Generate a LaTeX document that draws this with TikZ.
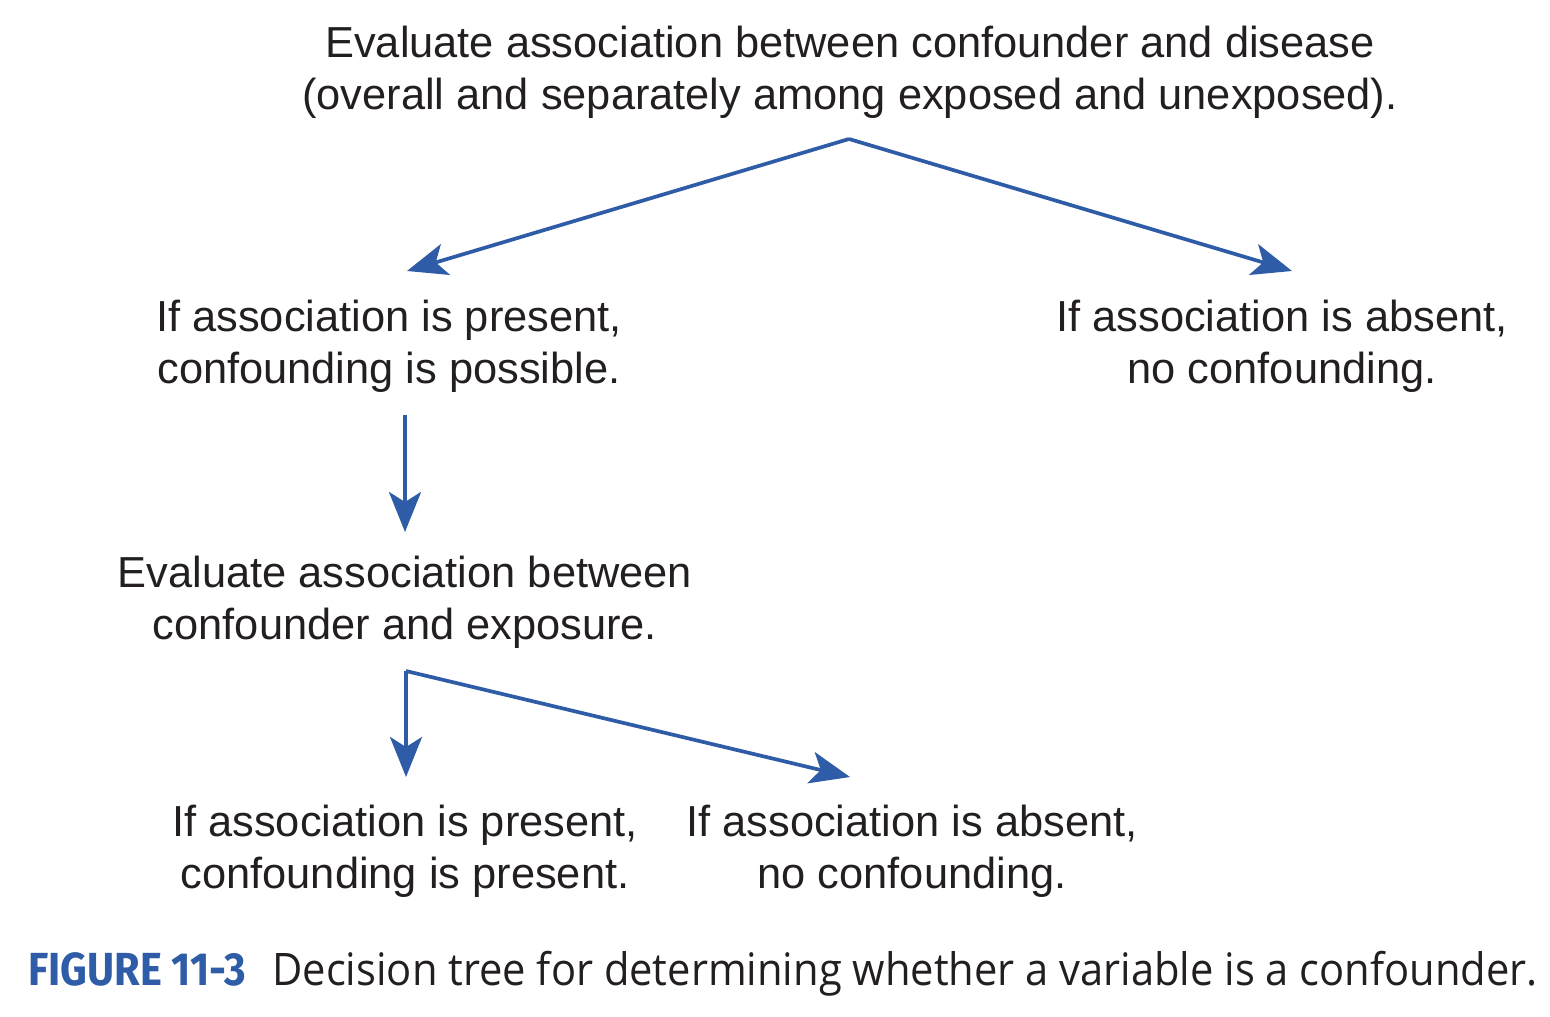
\documentclass[tikz,border=0pt]{standalone}
\usepackage{fontspec}
\setmainfont{Liberation Sans}
\newfontfamily\capfont{Fira Sans}
\newfontfamily\captext{Open Sans}
\usetikzlibrary{arrows.meta}
\definecolor{fblue}{HTML}{2E5CA6}
\definecolor{ftext}{HTML}{231F20}
\begin{document}
\begin{tikzpicture}[x=0.5pt,y=-0.5pt,
  lbl/.style={font=\fontsize{21.7}{26}\selectfont, text=ftext, align=center, inner sep=0pt, anchor=base},
  arr/.style={draw=fblue, line width=1.85pt, -{Stealth[length=20pt,width=16pt,inset=5pt]}}]
\useasboundingbox (0,0) rectangle (1550,1016);
% anchor=base is the baseline of the last line
\node[lbl] (top) at (850,110) {Evaluate association between confounder and disease\\(overall and separately among exposed and unexposed).};
\node[lbl] (pos1) at (389,383) {If association is present,\\confounding is possible.};
\node[lbl] (abs1) at (1282,383) {If association is absent,\\no confounding.};
\node[lbl] (eval2) at (405,639) {Evaluate association between\\confounder and exposure.};
\node[lbl] (pos2) at (405,888) {If association is present,\\confounding is present.};
\node[lbl] (abs2) at (912,888) {If association is absent,\\no confounding.};
\coordinate (apex) at (849,139);
\coordinate (tipL) at (407,271);
\coordinate (tipR) at (1292,271);
\coordinate (vtop) at (405,415);
\coordinate (vtip) at (405,532);
\coordinate (fork) at (406,671);
\coordinate (dtip) at (406,777);
\coordinate (rtip) at (850,777);
\draw[arr] (apex) -- (tipL);
\draw[arr] (apex) -- (tipR);
\draw[arr] (vtop) -- (vtip);
\draw[arr] (fork) -- (dtip);
\draw[arr] (fork) -- (rtip);
\node[anchor=base west, inner sep=0pt, text=fblue, font=\capfont\bfseries\fontsize{23.2}{26}\selectfont] (figlabel) at (28,985) {\scalebox{0.895}[1]{FIGURE 11-3}};
\node[anchor=base west, inner sep=0pt, text=ftext, font=\captext\fontsize{22.4}{26}\selectfont] (figcap) at (272,985) {\scalebox{0.93}[1]{Decision tree for determining whether a variable is a confounder.}};
\end{tikzpicture}
\end{document}
